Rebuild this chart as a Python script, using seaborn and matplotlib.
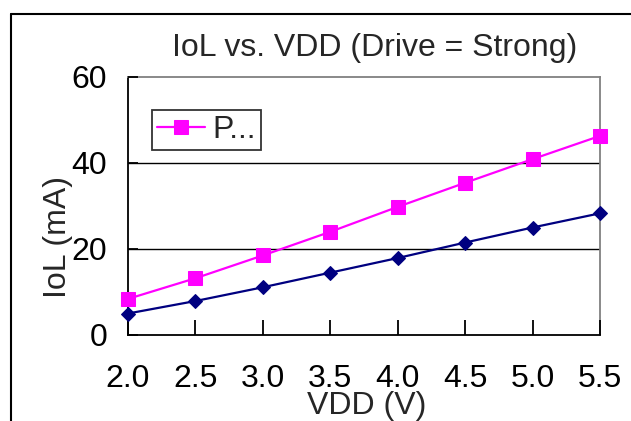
import matplotlib
matplotlib.use("Agg")
import matplotlib.pyplot as plt
import seaborn as sns
import pandas as pd
from matplotlib.lines import Line2D

vdd = [2.0, 2.5, 3.0, 3.5, 4.0, 4.5, 5.0, 5.5]
iol_p = [8.4, 13.2, 18.5, 24.0, 29.8, 35.4, 40.9, 46.3]
iol_n = [5.0, 7.9, 11.1, 14.5, 17.9, 21.5, 25.0, 28.3]
xtick_labels = ["2.0", "2.5", "3.0", "3.5", "4.0", "4.5", "5.0", "5.5"]
yticks = [0, 20, 40, 60]
legend_label = "P..."

sns.set_style("white", rc={"xtick.bottom": True, "ytick.left": True})
plt.rcParams['font.family'] = ['Liberation Sans', 'DejaVu Sans']
plt.rcParams.update({
    "xtick.direction": "in", "ytick.direction": "in",
    "xtick.major.size": 11, "ytick.major.size": 7,
    "xtick.major.width": 1.3, "ytick.major.width": 1.3,
    "xtick.color": "black", "ytick.color": "black",
    "xtick.bottom": True, "ytick.left": True,
})

FS = 23
fig = plt.figure(figsize=(6.31, 4.21), dpi=100)
W, H = 631, 421
ax = fig.add_axes([128 / W, (H - 335) / H, (600 - 128) / W, (335 - 77) / H])

df_p = pd.DataFrame({"VDD": vdd, "IoL": iol_p})
df_n = pd.DataFrame({"VDD": vdd, "IoL": iol_n})

sns.lineplot(data=df_n, x="VDD", y="IoL", ax=ax, color="#000080", marker="D",
             markersize=7, markeredgecolor="#000080", linewidth=1.6,
             clip_on=False, zorder=4)
line_n = ax.get_lines()[-1]
sns.lineplot(data=df_p, x="VDD", y="IoL", ax=ax, color="#FF00FF", marker="s",
             markersize=9.5, markeredgecolor="#FF00FF", linewidth=1.6,
             clip_on=False, zorder=5)
line_p = ax.get_lines()[-1]

ax.set_xlim(2.0, 5.5)
ax.set_ylim(0, 60)
ax.set_xticks(vdd)
ax.set_xticklabels(xtick_labels)
ax.set_yticks(yticks)
ax.set_yticklabels([str(v) for v in yticks])
ax.set_xlabel("")
ax.set_ylabel("")

for y in [20, 40]:
    ax.axhline(y, color="black", linewidth=1.0, zorder=1)

for s in ["left", "bottom"]:
    ax.spines[s].set_color("black")
    ax.spines[s].set_linewidth(1.3)
for s in ["top", "right"]:
    ax.spines[s].set_color("#808080")
    ax.spines[s].set_linewidth(1.3)

ax.tick_params(axis="x", which="major", direction="in", length=11, width=1.3,
               labelsize=FS, pad=21, color="black", labelcolor="black",
               bottom=True, top=False)
ax.tick_params(axis="y", which="major", direction="in", length=7, width=1.3,
               labelsize=FS, pad=15, color="black", labelcolor="black",
               left=True, right=False)
ax.set_axisbelow(False)

leg = ax.legend([line_p], [legend_label], loc="upper left",
                bbox_to_anchor=((152 - 128) / 472, (335 - 110) / 258),
                fontsize=FS, frameon=True, fancybox=False, borderpad=0.15,
                handlelength=1.5, handletextpad=0.25, borderaxespad=0)
leg.get_frame().set_edgecolor("black")
leg.get_frame().set_linewidth(1.3)

fig.text(375 / W, 1 - 48 / H, "IoL vs. VDD (Drive = Strong)", ha="center",
         va="center", fontsize=FS)
fig.text(367 / W, 1 - 406 / H, "VDD (V)", ha="center", va="center", fontsize=FS)
fig.text(58 / W, 1 - 237 / H, "IoL (mA)", ha="center", va="center",
         fontsize=FS, rotation=90)

fig.lines.append(Line2D([11 / W, 11 / W], [0, 1 - 14 / H], transform=fig.transFigure,
                        color="black", linewidth=1.5))
fig.lines.append(Line2D([11 / W, 1], [1 - 14 / H, 1 - 14 / H], transform=fig.transFigure,
                        color="black", linewidth=1.5))

fig.savefig("out.png", dpi=100)
